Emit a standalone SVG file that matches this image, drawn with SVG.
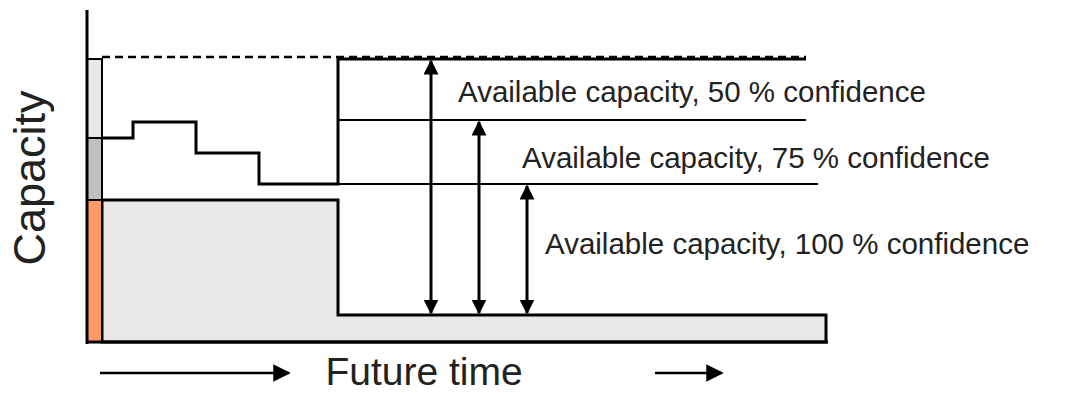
<svg xmlns="http://www.w3.org/2000/svg" width="1069" height="394" viewBox="0 0 1069 394">
<style>
.t{font-family:"Liberation Sans",Arial,sans-serif;fill:#222}
.ln{stroke:#000;fill:none}
</style>
<defs>
<marker id="ah" viewBox="0 0 10 10" refX="9" refY="5" markerWidth="5" markerHeight="5" orient="auto-start-reverse" markerUnits="strokeWidth">
<path d="M0,0 L10,5 L0,10 z" fill="#000"/>
</marker>
<marker id="ah2" viewBox="0 0 10 10" refX="9" refY="5" markerWidth="7" markerHeight="7" orient="auto" markerUnits="strokeWidth">
<path d="M0,0 L10,5 L0,10 z" fill="#000"/>
</marker>
</defs>
<rect width="1069" height="394" fill="#fff"/>
<g id="area">
<path d="M102,200 L338,200 L338,315 L826,315 L826,342 L102,342 Z" fill="#e8e8e8" stroke="#000" stroke-width="3"/>
</g>
<g id="bar">
<rect x="87" y="59" width="15" height="79" fill="#e8e8e8" stroke="#000" stroke-width="2"/>
<rect x="87" y="138" width="15" height="62" fill="#c0c0c0" stroke="#000" stroke-width="2"/>
<rect x="87" y="200" width="15" height="142" fill="#ff9966" stroke="#000" stroke-width="2"/>
</g>
<g id="axes">
<line class="ln" x1="87" y1="10" x2="87" y2="344" stroke-width="3"/>
<line class="ln" x1="86" y1="342" x2="828" y2="342" stroke-width="3"/>
</g>
<g id="levels">
<line class="ln" x1="102" y1="57" x2="806" y2="57" stroke-width="2.5" stroke-dasharray="8,5"/>
<path class="ln" d="M102,138 L133,138 L133,122 L196,122 L196,153 L259,153 L259,184 L338,184 L338,59 L806,59" stroke-width="3"/>
<line class="ln" x1="338" y1="120" x2="806" y2="120" stroke-width="2"/>
<line class="ln" x1="259" y1="184" x2="818" y2="184" stroke-width="2"/>
</g>
<g id="connectors">
<line class="ln" x1="431" y1="61" x2="431" y2="313" stroke-width="3" marker-start="url(#ah)" marker-end="url(#ah)"/>
<line class="ln" x1="479" y1="122" x2="479" y2="313" stroke-width="3" marker-start="url(#ah)" marker-end="url(#ah)"/>
<line class="ln" x1="527" y1="186" x2="527" y2="313" stroke-width="3" marker-start="url(#ah)" marker-end="url(#ah)"/>
<line class="ln" x1="100" y1="373" x2="289" y2="373" stroke-width="2.5" marker-end="url(#ah2)"/>
<line class="ln" x1="655" y1="373" x2="722" y2="373" stroke-width="2.5" marker-end="url(#ah2)"/>
</g>
<g id="labels">
<text class="t" x="458" y="102" font-size="29.5">Available capacity, 50 % confidence</text>
<text class="t" x="522" y="168" font-size="29.5">Available capacity, 75 % confidence</text>
<text class="t" x="545" y="254" font-size="29.5">Available capacity, 100 % confidence</text>
<text class="t" x="424" y="385" font-size="39" text-anchor="middle">Future time</text>
<text class="t" transform="translate(45,178) rotate(-90)" font-size="45" text-anchor="middle">Capacity</text>
</g>
</svg>
